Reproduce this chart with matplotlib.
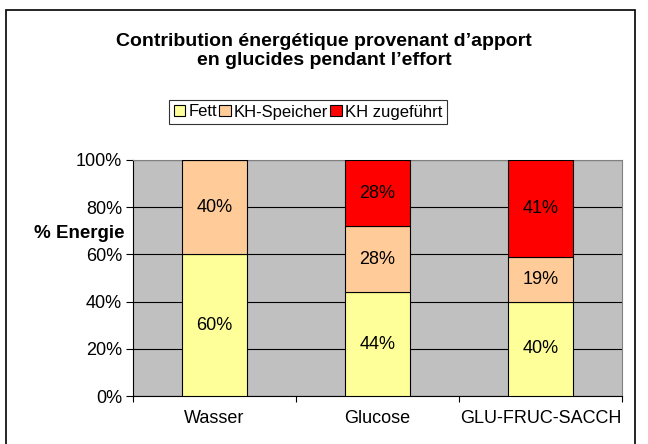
import numpy as np
import matplotlib.pyplot as plt
from matplotlib.patches import Rectangle

plt.rcParams['font.family'] = ['Liberation Sans', 'DejaVu Sans']

categories = ['Wasser', 'Glucose', 'GLU-FRUC-SACCH']
series = ['Fett', 'KH-Speicher', 'KH zugeführt']
fett = [60, 44, 40]
kh_speicher = [40, 28, 19]
kh_zugefuehrt = [0, 28, 41]
colors = ['#FFFF99', '#FFCC99', '#FF0000']

fig = plt.figure(figsize=(6.48, 4.44), dpi=100)
ax = fig.add_axes([133/648, 1 - 396/444, (622 - 133)/648, (396 - 160)/444])
ax.set_facecolor('#C0C0C0')

x = np.arange(len(categories))
bottom = np.zeros(len(categories))
for name, vals, col in zip(series, [fett, kh_speicher, kh_zugefuehrt], colors):
    vals = np.array(vals, dtype=float)
    bars = ax.bar(x, vals, 0.4, bottom=bottom, color=col, edgecolor='black',
                  linewidth=0.8, label=name, zorder=3)
    for b, v, b0 in zip(bars, vals, bottom):
        if v > 0:
            ax.text(b.get_x() + b.get_width()/2, b0 + v/2, f"{v:.0f}%",
                    ha='center', va='center', fontsize=13, zorder=4)
    bottom += vals

ax.set_xlim(-0.5, 2.5)
ax.set_ylim(0, 100)
ax.set_yticks(np.arange(0, 101, 20))
ax.set_yticklabels([f"{v}%" for v in range(0, 101, 20)], fontsize=13)
ax.yaxis.grid(True, color='black', linewidth=0.8, zorder=1)
ax.set_axisbelow(True)

# category labels sit between the boundary ticks
ax.set_xticks([-0.5, 0.5, 1.5, 2.5])
ax.set_xticklabels([])
ax.set_xticks(x, minor=True)
ax.set_xticklabels(categories, minor=True, fontsize=13)
ax.tick_params(axis='x', which='minor', length=0, pad=10)
ax.tick_params(axis='x', which='major', length=4, width=0.8)
ax.tick_params(axis='y', length=5, width=0.8, pad=3)

for side in ['top', 'right']:
    ax.spines[side].set_color('#808080')
ax.spines['left'].set_color('black')
ax.spines['bottom'].set_color('black')

fig.text(124/648, 1 - 233/444, '% Energie', ha='right', va='center',
         fontsize=13.5, fontweight='bold')

fig.text(0.5, 1 - 51/444, "Contribution énergétique provenant d’apport\nen glucides pendant l’effort",
         ha='center', va='center', fontsize=14, fontweight='bold', linespacing=1.15)

leg = fig.legend(loc='center', bbox_to_anchor=(308/648, 1 - 112/444), ncol=3,
                 fontsize=12, frameon=True, fancybox=False, edgecolor='black',
                 handlelength=0.7, handleheight=0.7, handletextpad=0.2,
                 columnspacing=0.1, borderpad=0.25, borderaxespad=0)
leg.get_frame().set_linewidth(0.8)

# outer chart border (bottom runs off the image)
fig.add_artist(Rectangle((6/648, -0.1), (635 - 6)/648, 1.1 - 10/444,
                         transform=fig.transFigure, fill=False,
                         edgecolor='black', linewidth=1.2, clip_on=False))

fig.savefig('out.png', dpi=100)
